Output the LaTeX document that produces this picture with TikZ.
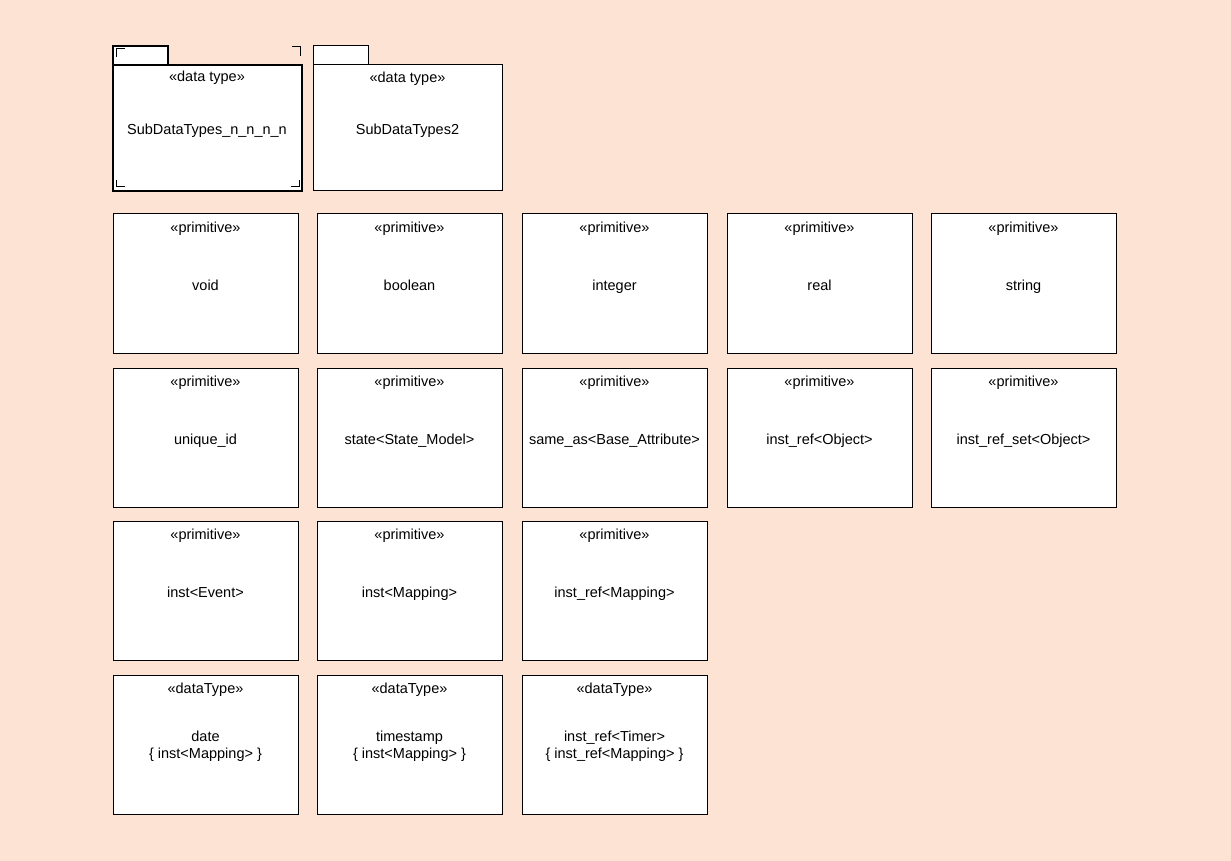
\documentclass[tikz,border=0pt]{standalone}
\usepackage{fontspec}
\setmainfont{Liberation Sans}
\begin{document}
\definecolor{canvas}{RGB}{253,227,211}
\begin{tikzpicture}[x=1pt,y=-1pt,
  box/.style={draw=black,fill=white,line width=1pt,rectangle,inner sep=0pt,
    minimum width=185pt,minimum height=139pt},
  pkgbody/.style={draw=black,fill=white,line width=1pt,rectangle,inner sep=0pt,
    minimum width=189pt,minimum height=126pt},
  pkgtab/.style={draw=black,fill=white,line width=1pt,rectangle,inner sep=0pt,
    minimum width=55pt,minimum height=19pt},
  txt/.style={font=\fontsize{14.5}{17}\selectfont,inner sep=0pt,anchor=center,
    align=center,execute at begin node=\strut,execute at end node=\strut},
  handle/.style={line width=1pt}]
\fill[canvas] (0,0) rectangle (1231,861);
\useasboundingbox (0,0) rectangle (1231,861);

% a classifier box: name, left, top, stereotype, text, text offset
\newcommand\typebox[6]{%
  \node[box] (#1) at (#2+92.5,#3+69.5) {};
  \node[txt] (#1-st) at ([yshift=-16pt]#1.north) {#4};
  \node[txt] (#1-nm) at ([yshift=#6]#1.center) {#5};
}

% packages
\node[pkgtab,line width=2pt] (pkgAtab) at (140,55.5) {};
\node[pkgbody,line width=2pt] (pkgA) at (207,128) {};
\node[txt] (pkgA-st) at ([yshift=-14.5pt]pkgA.north) {«data type»};
\node[txt] (pkgA-nm) at ([yshift=-3pt]pkgA.center) {SubDataTypes\_n\_n\_n\_n};
% selection handles
\draw[handle] (116,57) -- (116,49) -- (125,49);
\draw[handle] (292,47) -- (300,47) -- (300,56);
\draw[handle] (116,180) -- (116,187) -- (125,187);
\draw[handle] (291,187) -- (299,187) -- (299,180);

\node[pkgtab] (pkgBtab) at (340.5,55.5) {};
\node[pkgbody] (pkgB) at (407.5,128) {};
\node[txt] (pkgB-st) at ([yshift=-14.5pt]pkgB.north) {«data type»};
\node[txt] (pkgB-nm) at ([yshift=-3pt]pkgB.center) {SubDataTypes2};

% primitives
\typebox{void}{113}{214}{«primitive»}{void}{-3.3pt}
\typebox{boolean}{317}{214}{«primitive»}{boolean}{-3.3pt}
\typebox{integer}{522}{214}{«primitive»}{integer}{-3.3pt}
\typebox{real}{727}{214}{«primitive»}{real}{-3.3pt}
\typebox{string}{931}{214}{«primitive»}{string}{-3.3pt}

\typebox{uniqueid}{113}{368}{«primitive»}{unique\_id}{-3.3pt}
\typebox{state}{317}{368}{«primitive»}{state<State\_Model>}{-3.3pt}
\typebox{sameas}{522}{368}{«primitive»}{same\_as<Base\_Attribute>}{-3.3pt}
\typebox{instref}{727}{368}{«primitive»}{inst\_ref<Object>}{-3.3pt}
\typebox{instrefset}{931}{368}{«primitive»}{inst\_ref\_set<Object>}{-3.3pt}

\typebox{instevent}{113}{521}{«primitive»}{inst<Event>}{-3.3pt}
\typebox{instmap}{317}{521}{«primitive»}{inst<Mapping>}{-3.3pt}
\typebox{instrefmap}{522}{521}{«primitive»}{inst\_ref<Mapping>}{-3.3pt}

% data types
\typebox{date}{113}{675}{«dataType»}{date\\\{ inst<Mapping> \}}{-2.6pt}
\typebox{timestamp}{317}{675}{«dataType»}{timestamp\\\{ inst<Mapping> \}}{-2.6pt}
\typebox{timer}{522}{675}{«dataType»}{inst\_ref<Timer>\\\{ inst\_ref<Mapping> \}}{-2.6pt}
\end{tikzpicture}
\end{document}
